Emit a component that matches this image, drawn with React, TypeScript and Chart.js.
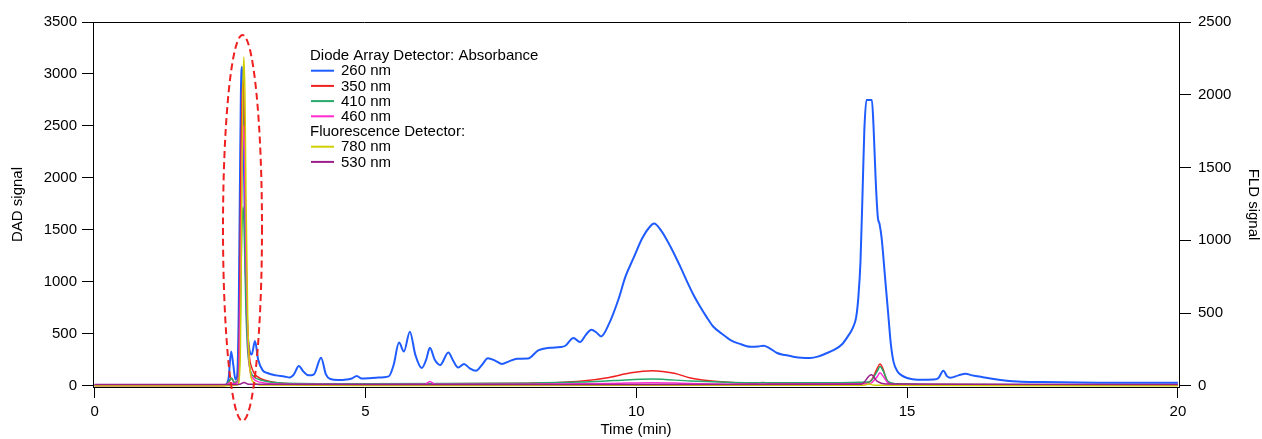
import React, { useEffect, useRef } from 'react';
import { Chart, registerables } from 'chart.js';

Chart.register(...registerables);

const FONT = "'Liberation Sans', Arial, Helvetica, sans-serif";

// X ticks (min)
const X_TICKS = [0, 5, 10, 15, 20];
const DAD_TICKS = [0, 500, 1000, 1500, 2000, 2500, 3000, 3500];
const FLD_TICKS = [0, 500, 1000, 1500, 2000, 2500];

// [time (min), signal] — DAD 260 nm
const DAD_260: [number, number][] = [
  [0, 5], [1, 5], [2, 5], [2.4, 8], [2.47, 60], [2.52, 330], [2.56, 200], [2.6, 60], [2.63, 90],
  [2.66, 700], [2.68, 1800], [2.7, 2800], [2.72, 3070], [2.74, 2800], [2.76, 2000], [2.79, 1100],
  [2.82, 560], [2.86, 340], [2.9, 300], [2.96, 430], [3.02, 250], [3.1, 150], [3.2, 120], [3.35, 100],
  [3.5, 90], [3.6, 80], [3.68, 110], [3.77, 190], [3.85, 140], [3.95, 100], [4.05, 110], [4.18, 270],
  [4.27, 110], [4.35, 65], [4.5, 55], [4.65, 60], [4.75, 70], [4.84, 95], [4.93, 70], [5.05, 72],
  [5.2, 78], [5.43, 90], [5.52, 200], [5.62, 415], [5.71, 330], [5.82, 520], [5.92, 300],
  [6.04, 170], [6.12, 250], [6.19, 365], [6.28, 250], [6.38, 200], [6.53, 320], [6.62, 240],
  [6.71, 175], [6.82, 210], [6.92, 170], [7.04, 145], [7.15, 200], [7.26, 265], [7.4, 240],
  [7.52, 210], [7.65, 235], [7.8, 260], [8.0, 262], [8.19, 340], [8.41, 365], [8.6, 372],
  [8.69, 385], [8.84, 460], [8.96, 420], [9.07, 490], [9.17, 540], [9.27, 510], [9.35, 475],
  [9.5, 600], [9.67, 830], [9.8, 1050], [9.95, 1230], [10.11, 1420], [10.25, 1530], [10.33, 1560],
  [10.45, 1500], [10.63, 1340], [10.8, 1160], [10.94, 1000], [11.05, 880], [11.18, 760],
  [11.3, 660], [11.42, 570], [11.58, 500], [11.74, 440], [11.9, 405], [12.11, 375], [12.25, 378],
  [12.35, 385], [12.45, 365], [12.6, 315], [12.75, 295], [12.9, 280], [13.05, 270], [13.21, 268],
  [13.35, 280], [13.5, 310], [13.65, 345], [13.8, 400], [13.9, 470], [14.0, 560], [14.06, 660],
  [14.1, 850], [14.14, 1200], [14.18, 1900], [14.21, 2450], [14.25, 2750], [14.35, 2750],
  [14.38, 2500], [14.42, 1980], [14.46, 1620], [14.49, 1560], [14.53, 1420], [14.6, 1000],
  [14.65, 700], [14.7, 400], [14.75, 230], [14.82, 140], [14.9, 100], [15.0, 75], [15.19, 58],
  [15.49, 60], [15.58, 75], [15.67, 145], [15.74, 90], [15.8, 77], [15.95, 100], [16.08, 115],
  [16.2, 100], [16.36, 87], [16.6, 65], [17.04, 40], [17.5, 35], [18.5, 30], [20, 29],
];

// DAD 350 nm
const DAD_350: [number, number][] = [
  [0, 3], [2.4, 3], [2.48, 40], [2.53, 70], [2.58, 30], [2.65, 60], [2.68, 900], [2.7, 2100],
  [2.725, 2800], [2.745, 2940], [2.765, 2500], [2.785, 1700], [2.81, 800], [2.85, 330], [2.91, 160],
  [3.0, 90], [3.2, 45], [3.6, 20], [5, 15], [8, 25], [8.5, 30], [9.0, 45], [9.5, 80], [9.9, 125],
  [10.3, 145], [10.7, 120], [11.0, 75], [11.5, 40], [12.2, 25], [12.35, 32], [12.5, 22],
  [13.5, 20], [14.2, 25], [14.35, 60], [14.45, 170], [14.5, 210], [14.55, 170], [14.62, 60],
  [14.75, 20], [15.5, 12], [20, 10],
];

// DAD 410 nm
const DAD_410: [number, number][] = [
  [0, 4], [2.4, 4], [2.48, 40], [2.53, 75], [2.58, 30], [2.66, 60], [2.69, 600], [2.71, 1300],
  [2.73, 1650], [2.745, 1720], [2.765, 1400], [2.79, 800], [2.82, 380], [2.87, 160], [2.94, 90],
  [3.1, 50], [3.5, 25], [5, 20], [8, 25], [9, 35], [9.6, 50], [10.3, 65], [11, 45], [12, 30],
  [13.5, 28], [14.3, 35], [14.45, 140], [14.5, 185], [14.56, 140], [14.65, 40], [14.8, 20],
  [16, 12], [20, 10],
];

// DAD 460 nm
const DAD_460: [number, number][] = [
  [0, 2], [2.4, 2], [2.5, 30], [2.58, 20], [2.66, 50], [2.69, 900], [2.715, 1900], [2.735, 2400],
  [2.755, 2500], [2.775, 2000], [2.795, 1200], [2.825, 500], [2.86, 180], [2.93, 70], [3.05, 35],
  [3.5, 15], [5, 12], [6.1, 14], [6.19, 40], [6.28, 14], [8, 15], [9.5, 22], [10.3, 30], [11, 22],
  [12, 15], [14.3, 18], [14.45, 90], [14.5, 125], [14.56, 90], [14.65, 25], [14.8, 10], [16, 6],
  [20, 5],
];

// FLD 780 nm
const FLD_780: [number, number][] = [
  [0, 0], [2.4, 0], [2.64, 5], [2.69, 200], [2.715, 1200], [2.735, 2000], [2.755, 2260],
  [2.775, 2000], [2.795, 1300], [2.825, 500], [2.865, 120], [2.93, 25], [3.1, 5], [5, 2], [10, 3],
  [14.2, 3], [14.3, 12], [14.4, 3], [20, 0],
];

// FLD 530 nm
const FLD_530: [number, number][] = [
  [0, 8], [2.5, 8], [2.68, 10], [2.76, 22], [2.84, 10], [5, 8], [10, 9], [14.15, 10], [14.34, 75],
  [14.45, 30], [14.6, 12], [16, 10], [20, 9],
];

const COLORS = {
  c260: '#1f5cff',
  c350: '#f02020',
  c410: '#25a868',
  c460: '#ff2ccf',
  c780: '#cfcf00',
  c530: '#9a1f8c',
};

// annotation ellipse (data units)
const ELLIPSE = { t: 2.73, dad: 1518, halfWidthMin: 0.36, halfHeightDad: 1857 };

const LEGEND_ROWS: { label: string; color: string | null }[] = [
  { label: 'Diode Array Detector: Absorbance', color: null },
  { label: '260 nm', color: COLORS.c260 },
  { label: '350 nm', color: COLORS.c350 },
  { label: '410 nm', color: COLORS.c410 },
  { label: '460 nm', color: COLORS.c460 },
  { label: 'Fluorescence Detector:', color: null },
  { label: '780 nm', color: COLORS.c780 },
  { label: '530 nm', color: COLORS.c530 },
];

const toPts = (arr: [number, number][]) => arr.map(([x, y]) => ({ x, y }));

export default function App() {
  const ref = useRef<HTMLCanvasElement | null>(null);

  useEffect(() => {
    if (!ref.current) return;

    const overlay = {
      id: 'overlay',
      afterDraw(chart: any) {
        const { ctx, chartArea, scales } = chart;
        ctx.save();
        ctx.strokeStyle = '#000';
        ctx.lineWidth = 1;
        ctx.beginPath();
        ctx.moveTo(chartArea.left, chartArea.top + 0.5);
        ctx.lineTo(chartArea.right, chartArea.top + 0.5);
        ctx.stroke();

        ctx.font = `15px ${FONT}`;
        ctx.textBaseline = 'middle';
        ctx.textAlign = 'left';
        const lx = 310;
        const y0 = 55;
        LEGEND_ROWS.forEach((r, i) => {
          const y = y0 + i * 15.2;
          ctx.fillStyle = '#000';
          if (r.color) {
            ctx.strokeStyle = r.color;
            ctx.lineWidth = 2;
            ctx.beginPath();
            ctx.moveTo(lx + 1, y + 0.5);
            ctx.lineTo(lx + 24, y + 0.5);
            ctx.stroke();
            ctx.fillText(r.label, lx + 31, y + 1);
          } else {
            ctx.fillText(r.label, lx, y + 1);
          }
        });

        const xs = scales.x;
        const ys = scales.y;
        const cx = xs.getPixelForValue(ELLIPSE.t);
        const cy = ys.getPixelForValue(ELLIPSE.dad);
        const rx = xs.getPixelForValue(ELLIPSE.t + ELLIPSE.halfWidthMin) - cx;
        const ry = cy - ys.getPixelForValue(ELLIPSE.dad + ELLIPSE.halfHeightDad);
        ctx.strokeStyle = '#f02020';
        ctx.lineWidth = 2;
        ctx.setLineDash([7, 4]);
        ctx.beginPath();
        ctx.ellipse(cx, cy, rx, ry, 0, 0, Math.PI * 2);
        ctx.stroke();
        ctx.restore();
      },
    };

    const mk = (label: string, data: [number, number][], color: string, axis: string, width: number, order: number) => ({
      label,
      data: toPts(data),
      borderColor: color,
      backgroundColor: color,
      borderWidth: width,
      pointRadius: 0,
      cubicInterpolationMode: 'monotone' as const,
      yAxisID: axis,
      order,
    });

    const tickFont = { family: FONT, size: 15 };
    const plain = (v: any) => String(v);

    const chart = new Chart(ref.current, {
      type: 'line',
      data: {
        datasets: [
          mk('260 nm', DAD_260, COLORS.c260, 'y', 2, 10),
          mk('530 nm', FLD_530, COLORS.c530, 'y2', 1.5, 2),
          mk('780 nm', FLD_780, COLORS.c780, 'y2', 1.5, 3),
          mk('460 nm', DAD_460, COLORS.c460, 'y', 1.5, 4),
          mk('410 nm', DAD_410, COLORS.c410, 'y', 1.5, 5),
          mk('350 nm', DAD_350, COLORS.c350, 'y', 1.5, 6),
        ],
      },
      options: {
        responsive: false,
        animation: false,
        devicePixelRatio: 1,
        layout: { padding: { top: 22, left: 0, right: 0, bottom: 0 } },
        plugins: { legend: { display: false }, tooltip: { enabled: false } },
        scales: {
          x: {
            type: 'linear',
            min: -0.03,
            max: 20.02,
            afterBuildTicks: (s: any) => { s.ticks = X_TICKS.map((v) => ({ value: v })); },
            afterFit: (s: any) => { s.height = 52; },
            grid: { display: true, drawOnChartArea: false, drawTicks: true, tickLength: 11, color: '#000' },
            border: { display: true, color: '#000', width: 1 },
            ticks: { color: '#000', font: tickFont, padding: 5, maxRotation: 0, callback: plain },
            title: { display: true, text: 'Time (min)', color: '#000', font: tickFont, padding: { top: 0, bottom: 0 } },
          },
          y: {
            type: 'linear',
            position: 'left',
            min: -12,
            max: 3500,
            afterBuildTicks: (s: any) => { s.ticks = DAD_TICKS.map((v) => ({ value: v })); },
            afterFit: (s: any) => { s.width = 93; },
            grid: { display: true, drawOnChartArea: false, drawTicks: true, tickLength: 11, color: '#000' },
            border: { display: true, color: '#000', width: 1 },
            ticks: { color: '#000', font: tickFont, padding: 5, callback: plain },
            title: { display: true, text: 'DAD signal', color: '#000', font: tickFont, padding: { top: 9, bottom: 0 } },
          },
          y2: {
            type: 'linear',
            position: 'right',
            min: -12 * 2500 / 3500,
            max: 2500,
            afterBuildTicks: (s: any) => { s.ticks = FLD_TICKS.map((v) => ({ value: v })); },
            afterFit: (s: any) => { s.width = 83; },
            grid: { display: true, drawOnChartArea: false, drawTicks: true, tickLength: 12, color: '#000' },
            border: { display: true, color: '#000', width: 1 },
            ticks: { color: '#000', font: tickFont, padding: 7, callback: plain },
            title: { display: true, text: 'FLD signal', color: '#000', font: tickFont, padding: { top: 0, bottom: 0 } },
          },
        },
      },
      plugins: [overlay],
    } as any);

    return () => chart.destroy();
  }, []);

  return (
    <div style={{ position: 'absolute', left: 0, top: 0, width: 1262, height: 439, background: '#fff' }}>
      <canvas ref={ref} width={1262} height={439} style={{ display: 'block' }} />
    </div>
  );
}
